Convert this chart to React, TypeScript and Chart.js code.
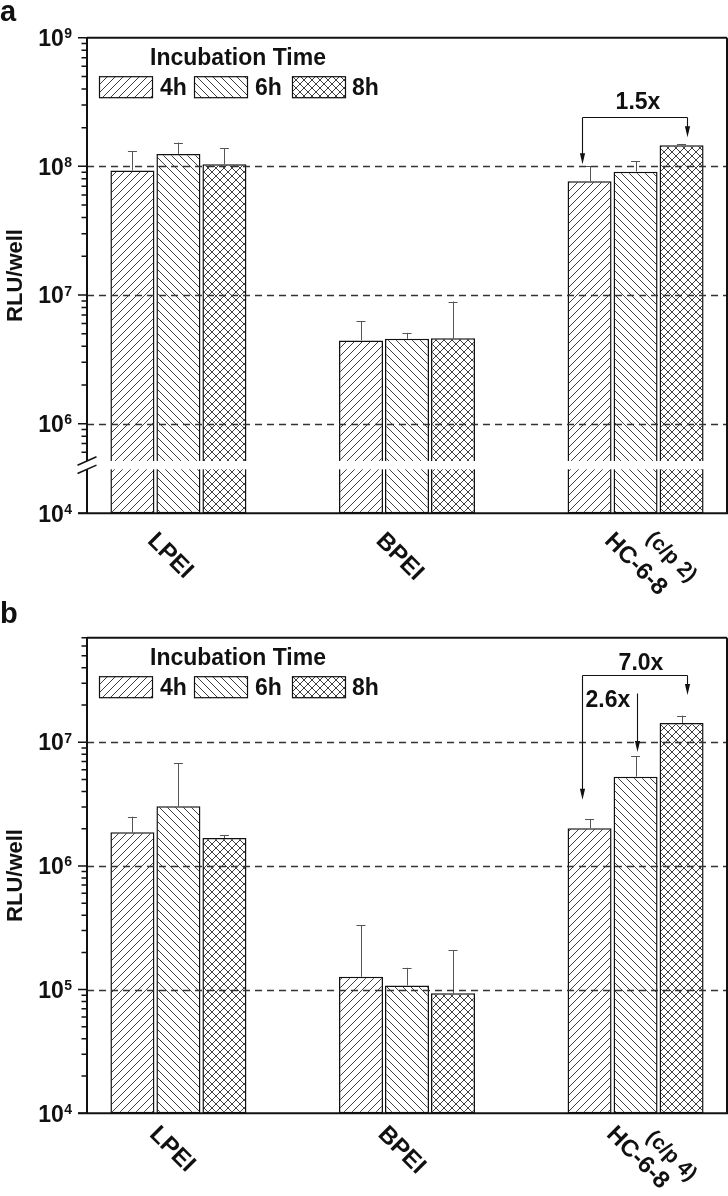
import React, { useEffect, useRef } from 'react';
import { Chart, registerables, LogarithmicScale } from 'chart.js';

Chart.register(...registerables);

class BrokenLogScale extends LogarithmicScale {
  static id = 'brokenLog';
  static defaults = LogarithmicScale.defaults;
  getPixelForValue(value: any): number {
    if (value === undefined || value === 0) value = (this as any).min;
    if (value === null || isNaN(value)) return NaN;
    const self: any = this;
    const L = Math.log10(value);
    const Lmin = Math.log10(self.min);
    const Lmax = Math.log10(self.max);
    const total = self.bottom - self.top;
    const upperPx = total - BREAK.gap - BREAK.lowerPx;
    if (L >= BREAK.at) return self.top + ((Lmax - L) / (Lmax - BREAK.at)) * upperPx;
    return self.bottom - ((L - Lmin) / (BREAK.at - Lmin)) * BREAK.lowerPx;
  }
}
Chart.register(BrokenLogScale as any);

const FONT = "'Liberation Sans', Arial, Helvetica, sans-serif";
const BREAK = { at: 5.71, gap: 8.3, lowerPx: 44 };

// ---------- data ----------
const categories = ['LPEI', 'BPEI', 'HC-6-8'];
const seriesLabels = ['4h', '6h', '8h'];
const legendTitle = 'Incubation Time';
const yAxisTitle = 'RLU/well';

// panel a (c/p 2)
const a4h = [9.3e7, 4.44e6, 7.65e7];
const a6h = [1.25e8, 4.57e6, 9.1e7];
const a8h = [1.04e8, 4.62e6, 1.46e8];
const a4hErr = [3.8e7, 1.84e6, 2.35e7];
const a6hErr = [2.8e7, 0.51e6, 1.9e7];
const a8hErr = [3.4e7, 4.28e6, 0.3e7];
const aMajorTicks = [1e4, 1e6, 1e7, 1e8, 1e9];
const aGridLines = [1e6, 1e7, 1e8];
const aNote = '(c/p 2)';

// panel b (c/p 4)
const b4h = [1.87e6, 1.27e5, 2.02e6];
const b6h = [3.04e6, 1.08e5, 5.27e6];
const b8h = [1.68e6, 9.35e4, 1.43e7];
const b4hErr = [0.63e6, 2.06e5, 0.38e6];
const b6hErr = [3.73e6, 0.42e5, 2.47e6];
const b8hErr = [0.1e6, 1.15e5, 0.21e7];
const bMajorTicks = [1e4, 1e5, 1e6, 1e7];
const bGridLines = [1e5, 1e6, 1e7];
const bNote = '(c/p 4)';

type Ann = {
  kind: 'bracket' | 'arrow';
  text: string;
  textAt: number;
  fromS: number; fromDx: number; fromTip: number;
  toS?: number; toDx?: number; toTip?: number;
  top: number;
  cat: number;
  textDx: number;
};

const panelA = {
  letter: 'a',
  letterY: 21,
  height: 600,
  series: [a4h, a6h, a8h],
  errors: [a4hErr, a6hErr, a8hErr],
  yType: 'brokenLog',
  yMin: 1e4,
  yMax: 1e9,
  majors: aMajorTicks,
  grid: aGridLines,
  note: aNote,
  broken: true,
  labelDx: -32,
  labelDy: 28.5,
  noteDx: 9.7,
  noteDy: 26,
  anns: [
    { kind: 'bracket', text: '1.5x', textAt: 2.77e8, fromS: 0, fromDx: -8, fromTip: 1.04e8, toS: 2, toDx: 5, toTip: 1.68e8, top: 2.44e8, cat: 2, textDx: 3 },
  ] as Ann[],
};

const panelB = {
  letter: 'b',
  letterY: 23,
  height: 596,
  series: [b4h, b6h, b8h],
  errors: [b4hErr, b6hErr, b8hErr],
  yType: 'logarithmic',
  yMin: 1e4,
  yMax: 7e7,
  majors: bMajorTicks,
  grid: bGridLines,
  note: bNote,
  broken: false,
  labelDx: -30,
  labelDy: 22,
  noteDx: 9.7,
  noteDy: 25,
  anns: [
    { kind: 'bracket', text: '7.0x', textAt: 3.84e7, fromS: 0, fromDx: -8, fromTip: 3.42e6, toS: 2, toDx: 5, toTip: 2.41e7, top: 3.5e7, cat: 2, textDx: 6 },
    { kind: 'arrow', text: '2.6x', textAt: 1.93e7, fromS: 1, fromDx: 1, fromTip: 8.35e6, top: 2.5e7, cat: 2, textDx: 0 },
  ] as Ann[],
};

// ---------- helpers ----------
function makePattern(kind: 'fwd' | 'back' | 'cross', size = 8): CanvasPattern {
  const c = document.createElement('canvas');
  c.width = size;
  c.height = size;
  const g = c.getContext('2d')!;
  g.fillStyle = '#fff';
  g.fillRect(0, 0, size, size);
  g.strokeStyle = '#2a2a2a';
  g.lineWidth = 0.9;
  g.beginPath();
  for (const k of [-size, 0, size]) {
    if (kind === 'fwd' || kind === 'cross') {
      g.moveTo(k, size);
      g.lineTo(k + size, 0);
    }
    if (kind === 'back' || kind === 'cross') {
      g.moveTo(k, 0);
      g.lineTo(k + size, size);
    }
  }
  g.stroke();
  return g.createPattern(c, 'repeat')!;
}

const SUP_FONT = `bold 14px ${FONT}`;
const MAIN_FONT = `bold 23px ${FONT}`;

function drawArrowDown(ctx: CanvasRenderingContext2D, x: number, y0: number, tip: number) {
  const head = 11;
  ctx.beginPath();
  ctx.moveTo(x, y0);
  ctx.lineTo(x, tip - head + 1);
  ctx.stroke();
  ctx.beginPath();
  ctx.moveTo(x - 2.6, tip - head);
  ctx.lineTo(x + 2.6, tip - head);
  ctx.lineTo(x, tip);
  ctx.closePath();
  ctx.fill();
}

function buildChart(canvas: HTMLCanvasElement, cfg: typeof panelA) {
  const patterns = [makePattern('fwd'), makePattern('back'), makePattern('cross')];
  const H = cfg.height;

  const decor = {
    id: 'decor',
    afterDraw(chart: any) {
      const ctx: CanvasRenderingContext2D = chart.ctx;
      const { left, right, top, bottom } = chart.chartArea;
      const ys = chart.scales.y;
      const xs = chart.scales.x;
      ctx.save();

      // error bars
      ctx.strokeStyle = '#555';
      ctx.lineWidth = 1;
      cfg.series.forEach((vals, s) => {
        const meta = chart.getDatasetMeta(s);
        vals.forEach((v, i) => {
          const el = meta.data[i];
          const yTop = ys.getPixelForValue(v + cfg.errors[s][i]);
          ctx.beginPath();
          ctx.moveTo(Math.round(el.x) + 0.5, el.y);
          ctx.lineTo(Math.round(el.x) + 0.5, yTop);
          ctx.moveTo(el.x - 4.5, Math.round(yTop) + 0.5);
          ctx.lineTo(el.x + 4.5, Math.round(yTop) + 0.5);
          ctx.stroke();
        });
      });

      // broken-axis gap
      let gapTop = 0;
      let gapBot = 0;
      if (cfg.broken) {
        gapTop = ys.getPixelForValue(Math.pow(10, BREAK.at));
        gapBot = bottom - BREAK.lowerPx;
        ctx.fillStyle = '#fff';
        ctx.fillRect(left + 1, gapTop, right - left - 2, gapBot - gapTop);
      }

      // dashed grid lines
      ctx.strokeStyle = '#333';
      ctx.lineWidth = 1.3;
      ctx.setLineDash([7, 5]);
      cfg.grid.forEach((v) => {
        const y = Math.round(ys.getPixelForValue(v)) + 0.5;
        ctx.beginPath();
        ctx.moveTo(left, y);
        ctx.lineTo(right, y);
        ctx.stroke();
      });
      ctx.setLineDash([]);

      // frame
      ctx.strokeStyle = '#111';
      ctx.lineWidth = 2;
      ctx.beginPath();
      ctx.moveTo(left, top);
      ctx.lineTo(right, top);
      ctx.moveTo(right, top);
      ctx.lineTo(right, bottom);
      ctx.moveTo(left - 9, bottom);
      ctx.lineTo(right + 1, bottom);
      if (cfg.broken) {
        ctx.moveTo(left, top);
        ctx.lineTo(left, gapTop);
        ctx.moveTo(left, gapBot);
        ctx.lineTo(left, bottom);
      } else {
        ctx.moveTo(left, top);
        ctx.lineTo(left, bottom);
      }
      ctx.stroke();

      // tick marks
      ctx.lineWidth = 1.5;
      ctx.beginPath();
      cfg.majors.forEach((v) => {
        const y = ys.getPixelForValue(v);
        ctx.moveTo(left - 9, y);
        ctx.lineTo(left, y);
      });
      for (let d = 4; d < 10; d++) {
        for (let m = 2; m <= 9; m++) {
          const v = m * Math.pow(10, d);
          if (v > cfg.yMax + 1) continue;
          if (cfg.broken && Math.log10(v) < BREAK.at) continue;
          const y = ys.getPixelForValue(v);
          ctx.moveTo(left - 5.5, y);
          ctx.lineTo(left, y);
        }
      }
      ctx.stroke();

      // break marks
      if (cfg.broken) {
        ctx.lineWidth = 1.5;
        ctx.beginPath();
        [gapTop, gapBot].forEach((yy) => {
          ctx.moveTo(left - 9.5, yy + 4.2);
          ctx.lineTo(left + 9.5, yy - 4.2);
        });
        ctx.stroke();
      }

      // y tick labels 10^n
      ctx.fillStyle = '#111';
      const labRight = left - 15;
      cfg.majors.forEach((v) => {
        const y = ys.getPixelForValue(v);
        const e = String(Math.round(Math.log10(v)));
        ctx.font = SUP_FONT;
        const ew = ctx.measureText(e).width;
        ctx.textAlign = 'right';
        ctx.textBaseline = 'alphabetic';
        ctx.fillText(e, labRight, y + 0.5);
        ctx.font = MAIN_FONT;
        ctx.fillText('10', labRight - ew - 0.5, y + 8.2);
      });

      // y title
      ctx.save();
      ctx.translate(16, (top + bottom) / 2);
      ctx.rotate(-Math.PI / 2);
      ctx.font = `bold 22px ${FONT}`;
      ctx.textAlign = 'center';
      ctx.textBaseline = 'middle';
      ctx.fillText(yAxisTitle, 0, 0);
      ctx.restore();

      // panel letter
      ctx.font = `bold 29px ${FONT}`;
      ctx.textAlign = 'left';
      ctx.textBaseline = 'alphabetic';
      ctx.fillText(cfg.letter, 0, cfg.letterY);

      // legend
      ctx.font = MAIN_FONT;
      ctx.textAlign = 'center';
      ctx.fillText(legendTitle, left + 151, top + 27.3);
      const boxX = [12, 107, 205];
      const txtX = [73, 168, 265];
      seriesLabels.forEach((lab, s) => {
        const bx = left + boxX[s];
        const by = top + 38.5;
        ctx.fillStyle = patterns[s];
        ctx.fillRect(bx, by, 54, 22);
        ctx.strokeStyle = '#111';
        ctx.lineWidth = 1.2;
        ctx.strokeRect(bx + 0.5, by + 0.5, 53, 21);
        ctx.fillStyle = '#111';
        ctx.textAlign = 'left';
        ctx.fillText(lab, left + txtX[s], top + 57.3);
      });

      // annotations
      ctx.strokeStyle = '#111';
      ctx.fillStyle = '#111';
      ctx.lineWidth = 1.1;
      cfg.anns.forEach((a) => {
        const fromEl = chart.getDatasetMeta(a.fromS).data[a.cat];
        const fx = Math.round(fromEl.x + a.fromDx) + 0.5;
        const ty = Math.round(ys.getPixelForValue(a.top)) + 0.5;
        drawArrowDown(ctx, fx, ty, ys.getPixelForValue(a.fromTip));
        ctx.font = MAIN_FONT;
        if (a.kind === 'bracket') {
          const toEl = chart.getDatasetMeta(a.toS!).data[a.cat];
          const tx = Math.round(toEl.x + a.toDx!) + 0.5;
          ctx.beginPath();
          ctx.moveTo(fx, ty);
          ctx.lineTo(tx, ty);
          ctx.stroke();
          drawArrowDown(ctx, tx, ty, ys.getPixelForValue(a.toTip!));
          ctx.textAlign = 'center';
          ctx.fillText(a.text, (fx + tx) / 2 + a.textDx, ys.getPixelForValue(a.textAt));
        } else {
          const leftEl = chart.getDatasetMeta(0).data[a.cat];
          ctx.textAlign = 'left';
          ctx.fillText(a.text, leftEl.x - 8 + 4, ys.getPixelForValue(a.textAt));
        }
      });

      // x category labels (rotated 45deg clockwise)
      ctx.fillStyle = '#111';
      categories.forEach((c, i) => {
        const px = xs.getPixelForValue(i + 1);
        ctx.save();
        ctx.translate(px + cfg.labelDx, bottom + cfg.labelDy);
        ctx.rotate(Math.PI / 4);
        ctx.font = `bold 24px ${FONT}`;
        ctx.textAlign = 'left';
        ctx.textBaseline = 'alphabetic';
        ctx.fillText(c, 0, 0);
        ctx.restore();
        if (i === categories.length - 1) {
          ctx.save();
          ctx.translate(px + cfg.noteDx, bottom + cfg.noteDy);
          ctx.rotate(Math.PI / 4);
          ctx.font = `bold 21px ${FONT}`;
          ctx.textAlign = 'left';
          ctx.textBaseline = 'alphabetic';
          ctx.fillText(cfg.note, 0, 0);
          ctx.restore();
        }
      });

      ctx.restore();
    },
  };

  return new Chart(canvas, {
    type: 'bar',
    data: {
      datasets: cfg.series.map((vals, s) => ({
        label: seriesLabels[s],
        data: vals.map((v, i) => ({ x: i + 1, y: v })),
        backgroundColor: patterns[s] as any,
        borderColor: '#111',
        borderWidth: 1.5,
        borderSkipped: false,
        categoryPercentage: 0.6038,
        barPercentage: 0.9565,
      })),
    },
    options: {
      responsive: false,
      animation: false,
      events: [],
      devicePixelRatio: 1,
      layout: { padding: { left: 87, right: 1, top: 37.7, bottom: H - 513.3 } },
      scales: {
        x: {
          type: 'linear',
          min: 0.6,
          max: 3.4,
          display: false,
          offset: false,
          ticks: { stepSize: 1, includeBounds: false },
        },
        y: { type: cfg.yType as any, min: cfg.yMin, max: cfg.yMax, display: false },
      },
      plugins: { legend: { display: false }, tooltip: { enabled: false } },
    } as any,
    plugins: [decor],
  });
}

function Panel({ cfg }: { cfg: typeof panelA }) {
  const ref = useRef<HTMLCanvasElement>(null);
  useEffect(() => {
    const chart = buildChart(ref.current!, cfg);
    return () => chart.destroy();
  }, [cfg]);
  return (
    <canvas
      ref={ref}
      width={728}
      height={cfg.height}
      style={{ display: 'block', width: 728, height: cfg.height }}
    />
  );
}

export default function App() {
  return (
    <div style={{ position: 'absolute', left: 0, top: 0, width: 728, height: 1196, background: '#fff' }}>
      <Panel cfg={panelA} />
      <Panel cfg={panelB} />
    </div>
  );
}
